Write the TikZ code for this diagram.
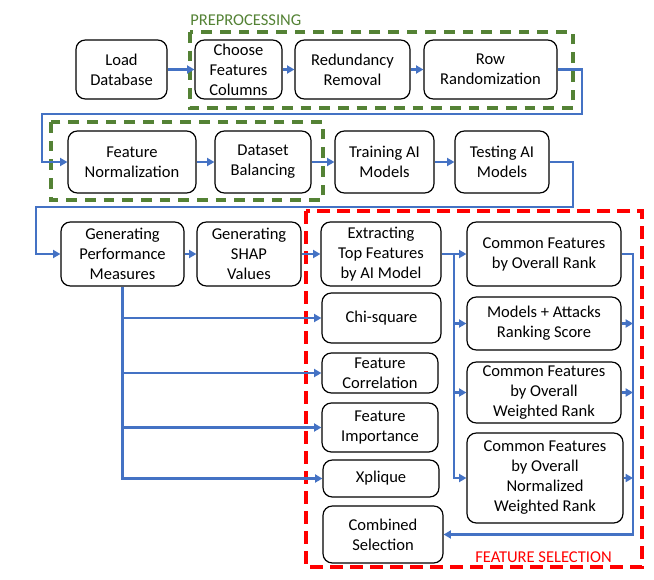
\documentclass[tikz,border=0pt]{standalone}
\usepackage{fontspec}
\setmainfont{Carlito}
\usepackage{tikz}
\usetikzlibrary{arrows.meta}

\begin{document}
\begin{tikzpicture}[x=0.75pt,y=0.75pt,yscale=-1,xscale=1,
  stage/.style={draw, rounded corners=7pt, line width=0.9pt, align=center, inner sep=1pt, font=\fontsize{12.4}{15}\selectfont},
  flow/.style={draw={rgb, 255:red, 68; green, 114; blue, 196}, line width=2.2pt, -{Triangle[length=5.5pt,width=6pt]}},
  prepbox/.style={draw={rgb, 255:red, 84; green, 130; blue, 53}, line width=2.5pt, dash pattern=on 8pt off 6pt},
  selbox/.style={draw={rgb, 255:red, 255; green, 0; blue, 0}, line width=2.5pt, dash pattern=on 10pt off 5pt},
  tag/.style={anchor=west, inner sep=0pt, font=\fontsize{12.4}{15}\selectfont}]
\useasboundingbox (0,0) rectangle (654,579); %set diagram size 654 x 579

%Shape: Rectangle [preprocessing]
\draw[prepbox] (190,32) rectangle (573,108);
\draw[prepbox] (51,122) rectangle (323,200);
%Shape: Rectangle [feature selection]
\draw[selbox] (306,211) rectangle (642,567);

% Text Node
\node[tag, text={rgb, 255:red, 84; green, 130; blue, 53}] (preptag) at (190,20) {PREPROCESSING};
\node[tag, text={rgb, 255:red, 255; green, 0; blue, 0}] (seltag) at (475,557) {FEATURE SELECTION};

% Row 1
\node[stage, minimum width=68.25pt, minimum height=44.25pt] (load) at (121.5,69.5) {Load\\Database};
\node[stage, minimum width=65.25pt, minimum height=44.25pt] (choose) at (238.5,69.5) {Choose\\Features\\Columns};
\node[stage, minimum width=86.25pt, minimum height=44.25pt] (redund) at (352.5,69.5) {Redundancy\\Removal};
\node[stage, minimum width=99.75pt, minimum height=44.25pt] (rowrand) at (490.5,69.5) {Row\\Randomization};
% Row 2
\node[stage, minimum width=96pt, minimum height=46.5pt] (fnorm) at (132,162) {Feature\\Normalization};
\node[stage, minimum width=72pt, minimum height=46.5pt] (balance) at (263,162) {Dataset\\Balancing};
\node[stage, minimum width=74.25pt, minimum height=46.5pt] (train) at (384.5,162) {Training AI\\Models};
\node[stage, minimum width=70.5pt, minimum height=46.5pt] (test) at (502,162) {Testing AI\\Models};
% Row 3
\node[stage, minimum width=92.25pt, minimum height=48pt] (genperf) at (122.5,254) {Generating\\Performance\\Measures};
\node[stage, minimum width=78pt, minimum height=48pt] (genshap) at (249,254) {Generating\\SHAP\\Values};
\node[stage, minimum width=90pt, minimum height=48pt] (extract) at (381,254) {Extracting\\Top Features\\by AI Model};
\node[stage, minimum width=115.5pt, minimum height=48pt] (commrank) at (544,254) {Common Features\\by Overall Rank};
% Selection methods
\node[stage, minimum width=89.25pt, minimum height=37.5pt] (chisq) at (381.5,318) {Chi-square};
\node[stage, minimum width=87pt, minimum height=30pt] (corr) at (380,373) {Feature\\Correlation};
\node[stage, minimum width=87pt, minimum height=36.75pt] (import) at (380,427.5) {Feature\\Importance};
\node[stage, minimum width=87pt, minimum height=27.75pt] (xpl) at (381,478.5) {Xplique};
\node[stage, minimum width=90pt, minimum height=42.75pt] (combsel) at (383,534.5) {Combined\\Selection};
% Ranking methods
\node[stage, minimum width=115.5pt, minimum height=39.75pt] (modatt) at (544,323.5) {Models + Attacks\\Ranking Score};
\node[stage, minimum width=115.5pt, minimum height=45.75pt] (commw) at (544,392.5) {Common Features\\by Overall\\Weighted Rank};
\node[stage, minimum width=117pt, minimum height=67.5pt] (commn) at (545,478) {Common Features\\by Overall\\Normalized\\Weighted Rank};

% Bends
\coordinate (turnA) at (582,69.5);
\coordinate (turnB) at (42,114);
\coordinate (turnC) at (573,162);
\coordinate (turnD) at (36,207);
\coordinate (split) at (454,254);
\coordinate (mergeT) at (633,254);
\coordinate (mergeB) at (633,534.5);

%Straight Lines
\draw[flow] (load.east) -- (choose.west);
\draw[flow] (choose.east) -- (redund.west);
\draw[flow] (redund.east) -- (rowrand.west);
\draw[flow] (rowrand.east) -- (turnA) |- (turnB) |- (fnorm.west);
\draw[flow] (fnorm.east) -- (balance.west);
\draw[flow] (balance.east) -- (train.west);
\draw[flow] (train.east) -- (test.west);
\draw[flow] (test.east) -- (turnC) |- (turnD) |- (genperf.west);
\draw[flow] (genperf.east) -- (genshap.west);
\draw[flow] (genshap.east) -- (extract.west);
\draw[flow] (genperf.south) |- (xpl.west);
\draw[flow] (genperf.south |- chisq.west) -- (chisq.west);
\draw[flow] (genperf.south |- corr.west) -- (corr.west);
\draw[flow] (genperf.south |- import.west) -- (import.west);
\draw[flow] (extract.east) -- (commrank.west);
\draw[flow] (split) |- (commn.west);
\draw[flow] (split |- modatt.west) -- (modatt.west);
\draw[flow] (split |- commw.west) -- (commw.west);
\draw[flow] (commrank.east) -- (mergeT) -- (mergeB) -- (combsel.east);
\draw[flow] (modatt.east) -- (modatt.east -| mergeT);
\draw[flow] (commw.east) -- (commw.east -| mergeT);
\draw[flow] (commn.east) -- (commn.east -| mergeT);

\end{tikzpicture}
\end{document}
